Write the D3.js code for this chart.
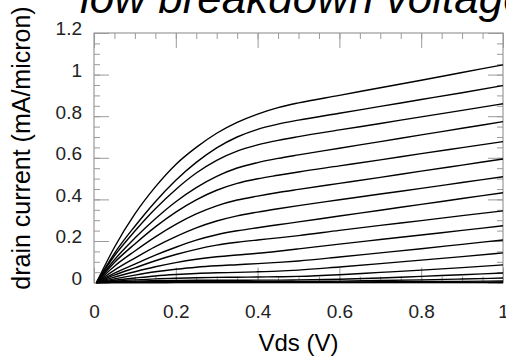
<!DOCTYPE html>
<html><head><meta charset="utf-8">
<script src="https://cdn.jsdelivr.net/npm/d3@7"></script>
<style>
html,body{margin:0;padding:0;background:#fff;}
svg{display:block;}
text{font-family:"Liberation Sans",Arial,sans-serif;}
</style></head>
<body>
<script>
// ---- data ----
const titleText = "low breakdown voltage";
const xTitle = "Vds (V)";
const yTitle = "drain current (mA/micron)";
const xTickValues = [0, 0.2, 0.4, 0.6, 0.8, 1];
const xTickLabels = ["0", "0.2", "0.4", "0.6", "0.8", "1"];
const yTickValues = [0, 0.2, 0.4, 0.6, 0.8, 1, 1.2];
const yTickLabels = ["0", "0.2", "0.4", "0.6", "0.8", "1", "1.2"];
const vds = [0.006, 0.05, 0.1, 0.15, 0.2, 0.25, 0.3, 0.35, 0.4, 0.45, 0.5, 0.6, 0.7, 0.8, 0.9, 1.0];
const c1  = [0, 0.170, 0.330, 0.460, 0.568, 0.650, 0.718, 0.770, 0.810, 0.841, 0.864, 0.900, 0.937, 0.973, 1.010, 1.047];
const c2  = [0, 0.141, 0.271, 0.389, 0.492, 0.578, 0.648, 0.700, 0.737, 0.762, 0.781, 0.814, 0.847, 0.880, 0.913, 0.947];
const c3  = [0, 0.129, 0.248, 0.355, 0.448, 0.527, 0.588, 0.632, 0.662, 0.684, 0.702, 0.734, 0.765, 0.797, 0.828, 0.860];
const c4  = [0, 0.110, 0.214, 0.307, 0.389, 0.457, 0.511, 0.551, 0.577, 0.597, 0.614, 0.646, 0.678, 0.710, 0.742, 0.774];
const c5  = [0, 0.097, 0.186, 0.268, 0.339, 0.398, 0.444, 0.477, 0.499, 0.516, 0.532, 0.561, 0.590, 0.620, 0.649, 0.678];
const c6  = [0, 0.079, 0.152, 0.220, 0.280, 0.330, 0.369, 0.397, 0.416, 0.433, 0.448, 0.477, 0.506, 0.536, 0.565, 0.594];
const c7  = [0, 0.060, 0.118, 0.173, 0.221, 0.263, 0.296, 0.321, 0.339, 0.355, 0.370, 0.398, 0.426, 0.453, 0.481, 0.509];
const c8  = [0, 0.045, 0.089, 0.132, 0.170, 0.204, 0.230, 0.249, 0.264, 0.278, 0.292, 0.320, 0.348, 0.376, 0.404, 0.432];
const c9  = [0, 0.036, 0.071, 0.105, 0.135, 0.160, 0.180, 0.194, 0.205, 0.215, 0.226, 0.251, 0.275, 0.298, 0.322, 0.345];
const c10 = [0, 0.026, 0.052, 0.076, 0.096, 0.112, 0.124, 0.133, 0.141, 0.151, 0.162, 0.185, 0.207, 0.229, 0.251, 0.273];
const c11 = [0, 0.018, 0.036, 0.052, 0.064, 0.074, 0.081, 0.086, 0.091, 0.097, 0.104, 0.123, 0.143, 0.163, 0.184, 0.205];
const c12 = [0, 0.011, 0.022, 0.032, 0.039, 0.044, 0.047, 0.049, 0.052, 0.055, 0.060, 0.075, 0.091, 0.108, 0.125, 0.143];
const c13 = [0, 0.007, 0.013, 0.018, 0.021, 0.023, 0.025, 0.026, 0.027, 0.028, 0.030, 0.038, 0.049, 0.060, 0.072, 0.085];
const c14 = [0, 0.004, 0.007, 0.009, 0.010, 0.011, 0.011, 0.011, 0.012, 0.012, 0.013, 0.016, 0.022, 0.030, 0.038, 0.046];
const c15 = [0, 0.002, 0.003, 0.004, 0.004, 0.005, 0.005, 0.005, 0.005, 0.006, 0.006, 0.007, 0.010, 0.013, 0.017, 0.022];
const c16 = [0, 0.001, 0.001, 0.002, 0.002, 0.002, 0.002, 0.002, 0.002, 0.002, 0.002, 0.003, 0.004, 0.005, 0.006, 0.008];
const c17 = [0, 0, 0, 0, 0.001, 0.001, 0.001, 0.001, 0.001, 0.001, 0.001, 0.001, 0.001, 0.002, 0.002, 0.003];
const c18 = [0, 0, 0, 0, 0, 0, 0, 0, 0, 0, 0, 0, 0, 0, 0, 0];
const curves = [c1, c2, c3, c4, c5, c6, c7, c8, c9, c10, c11, c12, c13, c14, c15, c16, c17, c18];

// ---- layout ----
const W = 506, H = 357;
const m = {left: 94, right: 3, top: 33, bottom: 74.4};
const iw = W - m.left - m.right, ih = H - m.top - m.bottom;
const axisColor = "#9a9a9a";

const svg = d3.select("body").append("svg").attr("width", W).attr("height", H);
svg.append("rect").attr("width", W).attr("height", H).attr("fill", "#fff");

const x = d3.scaleLinear().domain([0, 1]).range([0, iw]);
const y = d3.scaleLinear().domain([0, 1.2]).range([ih, 0]);

const g = svg.append("g").attr("transform", `translate(${m.left},${m.top})`);

const xMinor = d3.range(0, 1.0001, 0.05);
const yMinor = d3.range(0, 1.2001, 0.05);

function styleAxis(sel) {
  sel.select(".domain").remove();
  sel.selectAll(".tick line").attr("stroke", axisColor).attr("stroke-width", 1);
}

// minor ticks on all four sides
g.append("g").call(d3.axisBottom(x).tickValues(xMinor).tickSize(-6).tickFormat(""))
  .attr("transform", `translate(0,${ih})`).call(styleAxis);
g.append("g").call(d3.axisTop(x).tickValues(xMinor).tickSize(-6).tickFormat("")).call(styleAxis);
g.append("g").call(d3.axisLeft(y).tickValues(yMinor).tickSize(-6).tickFormat("")).call(styleAxis);
g.append("g").call(d3.axisRight(y).tickValues(yMinor).tickSize(-6).tickFormat(""))
  .attr("transform", `translate(${iw},0)`).call(styleAxis);

// major ticks
const xb = g.append("g").attr("transform", `translate(0,${ih})`)
  .call(d3.axisBottom(x).tickValues(xTickValues).tickSize(-15).tickPadding(22)
    .tickFormat((d, i) => xTickLabels[i]));
styleAxis(xb);
xb.selectAll("text").attr("font-size", 19).attr("fill", "#222");

g.append("g").call(d3.axisTop(x).tickValues(xTickValues).tickSize(-15).tickFormat("")).call(styleAxis);

const yl = g.append("g")
  .call(d3.axisLeft(y).tickValues(yTickValues).tickSize(-15).tickPadding(12)
    .tickFormat((d, i) => yTickLabels[i]));
styleAxis(yl);
yl.selectAll("text").attr("font-size", 19).attr("fill", "#222").attr("dy", "0.1em");

g.append("g").attr("transform", `translate(${iw},0)`)
  .call(d3.axisRight(y).tickValues(yTickValues).tickSize(-15).tickFormat("")).call(styleAxis);

// frame
g.append("rect").attr("x", 0).attr("y", 0).attr("width", iw).attr("height", ih)
  .attr("fill", "none").attr("stroke", axisColor).attr("stroke-width", 1.2);

// curves
const line = d3.line().x((d, i) => x(vds[i])).y(d => y(d)).curve(d3.curveMonotoneX);
g.append("g").selectAll("path").data(curves).join("path")
  .attr("d", line).attr("fill", "none").attr("stroke", "#000").attr("stroke-width", 1.4);

// titles
svg.append("text").attr("x", 80).attr("y", 12.5).attr("font-size", 44)
  .attr("font-style", "italic").attr("fill", "#000").text(titleText);

svg.append("text").attr("x", m.left + iw / 2).attr("y", 351).attr("text-anchor", "middle")
  .attr("font-size", 24).attr("fill", "#000").text(xTitle);

svg.append("text").attr("transform", "translate(30,148) rotate(-90)").attr("text-anchor", "middle")
  .attr("font-size", 25).attr("fill", "#000").text(yTitle);
</script>
</body></html>
